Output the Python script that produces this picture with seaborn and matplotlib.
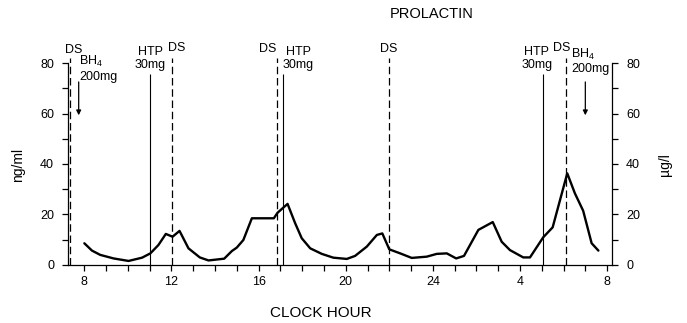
import matplotlib
matplotlib.use("Agg")
import matplotlib.pyplot as plt
import seaborn as sns
import pandas as pd

# ---- data (clock hour; hours after midnight written as 24+h) ----
hours = [8.0, 8.35, 8.73, 9.34, 10.03, 10.65, 11.03, 11.4, 11.74, 12.05, 12.37,
         12.78, 13.3, 13.7, 14.42, 14.77, 15.0, 15.3, 15.69, 16.7, 16.87, 17.33,
         17.68, 17.98, 18.37, 18.9, 19.43, 20.05, 20.43, 20.97, 21.43, 21.68,
         22.0, 22.5, 23.03, 23.72, 24.18, 24.64, 25.07, 25.43, 26.09, 26.75,
         27.16, 27.54, 28.15, 28.46, 29.07, 29.5, 30.17, 30.52, 30.9, 31.29, 31.6]
prolactin = [8.6, 5.7, 4.0, 2.6, 1.6, 2.9, 4.6, 7.9, 12.3, 11.2, 13.5,
             6.6, 3.0, 1.8, 2.5, 5.5, 6.9, 9.9, 18.5, 18.5, 20.7, 24.2,
             16.5, 10.6, 6.6, 4.4, 2.9, 2.4, 3.6, 7.3, 11.9, 12.5,
             6.2, 4.6, 2.8, 3.3, 4.4, 4.6, 2.6, 3.6, 13.9, 17.0,
             9.2, 5.9, 3.0, 3.0, 11.0, 14.9, 36.3, 28.4, 21.5, 8.6, 5.7]

ds_hours = [7.36, 12.02, 16.84, 22.0, 30.1]      # dashed "DS" markers
htp_hours = [11.03, 17.1, 29.07]                 # solid "HTP 30mg" markers
bh4_hours = [7.74, 31.0]                         # BH4 200mg arrows

xtick_pos = [8, 12, 16, 20, 24, 28, 32]
xtick_labels = ["8", "12", "16", "20", "24", "4", "8"]
ytick_pos = [0, 20, 40, 60, 80]

df = pd.DataFrame({"hour": hours, "ng_ml": prolactin})

sns.set_style("ticks")
plt.rcParams["font.family"] = ["Liberation Sans", "DejaVu Sans"]
plt.rcParams["mathtext.fontset"] = "custom"
plt.rcParams["mathtext.rm"] = "Liberation Sans"
for k in ["text.color", "axes.labelcolor", "xtick.color", "ytick.color",
          "xtick.labelcolor", "ytick.labelcolor"]:
    plt.rcParams[k] = "black"

fig = plt.figure(figsize=(6.87, 3.23), dpi=100)
ax = fig.add_axes([0.099, 0.1796, 0.792, 0.7035])

sns.lineplot(data=df, x="hour", y="ng_ml", color="black", linewidth=1.7,
             ax=ax, sort=False)

ax.set_xlim(7.25, 32.23)
ax.set_ylim(0, 90)

# event lines
ax.vlines(ds_hours, 0, 82, colors="black", linewidth=0.9,
          linestyles=(0, (6, 3)))
ax.vlines(htp_hours, 0, 75.5, colors="black", linewidth=0.8)

fs = 9
# DS labels
ds_text = [(7.5, 85.2), (12.25, 86), (16.43, 85.5), (21.99, 85.5), (29.9, 86)]
for (x, y) in ds_text:
    ax.text(x, y, "DS", ha="center", va="center", fontsize=fs)
# HTP labels
htp_text = [11.03, 17.82, 28.77]
for x in htp_text:
    ax.text(x, 84.5, "HTP", ha="center", va="center", fontsize=fs)
    ax.text(x, 79.2, "30mg", ha="center", va="center", fontsize=fs)
# BH4 labels and arrows
bh4_text = [(7.77, 80.5, 74.5), (30.34, 83.2, 77.6)]
for (x, y1, y2) in bh4_text:
    ax.text(x, y1, r"BH$_4$", ha="left", va="center", fontsize=fs)
    ax.text(x, y2, "200mg", ha="left", va="center", fontsize=fs)
for x in bh4_hours:
    ax.annotate("", xy=(x, 59.3), xytext=(x, 72.5),
                arrowprops=dict(arrowstyle="-|>", color="black", lw=0.9,
                                mutation_scale=7, shrinkA=0, shrinkB=0))

# axes styling
ax.set_xticks(xtick_pos)
ax.set_xticklabels(xtick_labels)
ax.set_xticks(list(range(8, 33)), minor=True)
ax.set_yticks(ytick_pos)
ax.set_yticks([10, 30, 50, 70], minor=True)
ax.tick_params(axis="both", which="both", direction="out", length=4,
               width=0.9, color="black", labelcolor="black", labelsize=fs)
ax.tick_params(axis="y", which="major", pad=6)
ax.tick_params(axis="x", which="major", pad=4)
ax.set_xlabel("")
ax.set_ylabel("")

ax.spines["top"].set_visible(False)
for s in ["left", "right", "bottom"]:
    ax.spines[s].set_color("black")
    ax.spines[s].set_linewidth(0.9)
ax.spines["left"].set_bounds(0, 80)
ax.spines["right"].set_visible(False)

ax2 = ax.twinx()
ax2.set_ylim(0, 90)
ax2.set_yticks(ytick_pos)
ax2.set_yticks([10, 30, 50, 70], minor=True)
ax2.tick_params(axis="y", which="both", direction="out", length=4,
                width=0.9, color="black", labelcolor="black", labelsize=fs,
                pad=6)
for s in ["top", "left", "bottom"]:
    ax2.spines[s].set_visible(False)
ax2.spines["right"].set_bounds(0, 80)
ax2.spines["right"].set_color("black")
ax2.spines["right"].set_linewidth(0.9)
ax2.set_ylabel("")

fig.text(0.629, 0.957, "PROLACTIN", ha="center", va="center", fontsize=10.5,
         color="black")
fig.text(0.467, 0.031, "CLOCK HOUR", ha="center", va="center", fontsize=11,
         color="black")
fig.text(0.026, 0.489, "ng/ml", ha="center", va="center", rotation=90,
         fontsize=10, color="black")
fig.text(0.968, 0.49, "µg/l", ha="center", va="center", rotation=90,
         fontsize=10, color="black")

fig.savefig("out.png", dpi=100, facecolor="white")
